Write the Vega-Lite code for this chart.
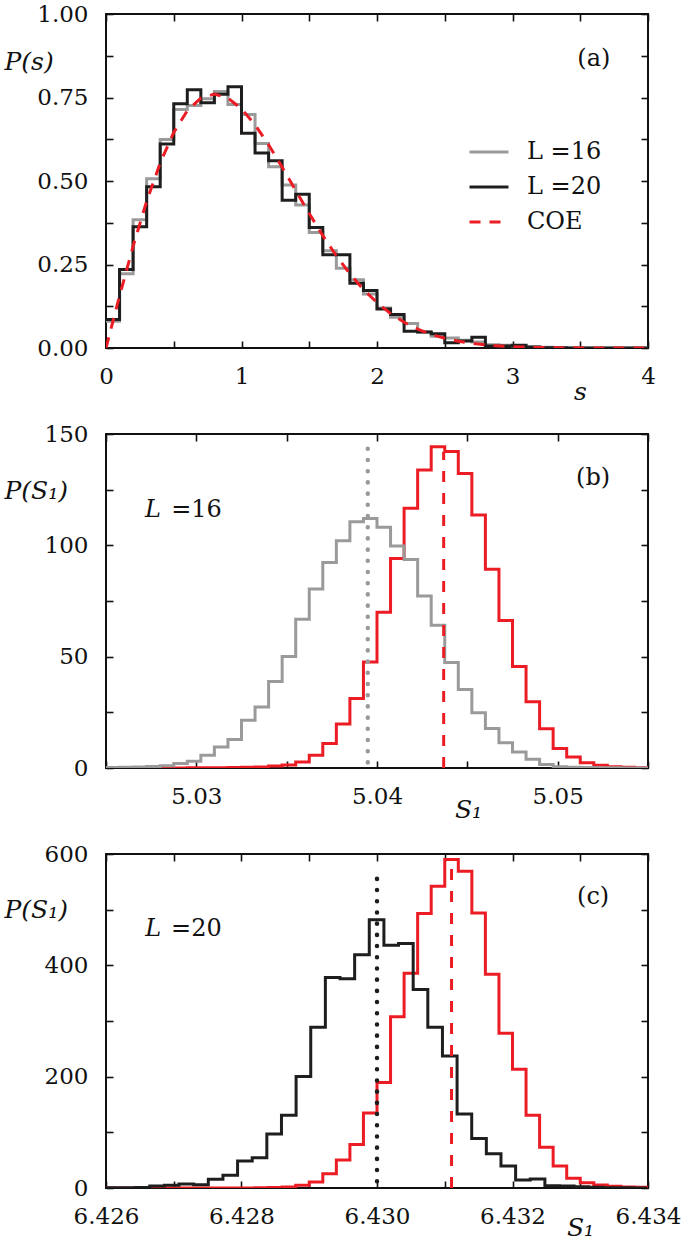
{
  "$schema": "https://vega.github.io/schema/vega-lite/v6.json",
  "background": "white",
  "padding": {"left": 3, "top": 2, "right": 4, "bottom": 4},
  "bounds": "flush",
  "spacing": 86,
  "config": {
    "font": "DejaVu Serif",
    "view": {"stroke": "#111111", "strokeWidth": 2},
    "axis": {
      "domain": false, "grid": false, "tickColor": "#111111", "tickWidth": 1.6, "tickSize": -7,
      "labelFont": "DejaVu Serif", "labelFontSize": 23, "labelColor": "#111111",
      "labelOverlap": false, "labelFlush": false,
      "titleFont": "DejaVu Serif", "titleFontSize": 25, "titleFontWeight": "normal",
      "titleColor": "#111111", "titleFontStyle": "italic", "titleAngle": 0
    },
    "axisX": {"labelPadding": 24, "titleAlign": "center", "titleBaseline": "middle"},
    "axisY": {"labelPadding": 25, "titleAlign": "left", "titleBaseline": "middle"},
    "text": {"font": "DejaVu Serif", "fontSize": 24, "color": "#111111"}
  },
  "datasets": {
    "ps": [
      {"s": 0.0, "p": 0.08, "series": "L =16"}, {"s": 0.1, "p": 0.222, "series": "L =16"}, {"s": 0.2, "p": 0.384, "series": "L =16"}, {"s": 0.3, "p": 0.507, "series": "L =16"}, {"s": 0.4, "p": 0.624, "series": "L =16"}, {"s": 0.5, "p": 0.714, "series": "L =16"}, {"s": 0.6, "p": 0.726, "series": "L =16"}, {"s": 0.7, "p": 0.746, "series": "L =16"}, {"s": 0.8, "p": 0.768, "series": "L =16"}, {"s": 0.9, "p": 0.729, "series": "L =16"},
      {"s": 1.0, "p": 0.699, "series": "L =16"}, {"s": 1.1, "p": 0.612, "series": "L =16"}, {"s": 1.2, "p": 0.543, "series": "L =16"}, {"s": 1.3, "p": 0.488, "series": "L =16"}, {"s": 1.4, "p": 0.428, "series": "L =16"}, {"s": 1.5, "p": 0.346, "series": "L =16"}, {"s": 1.6, "p": 0.291, "series": "L =16"}, {"s": 1.7, "p": 0.239, "series": "L =16"}, {"s": 1.8, "p": 0.204, "series": "L =16"}, {"s": 1.9, "p": 0.162, "series": "L =16"},
      {"s": 2.0, "p": 0.120, "series": "L =16"}, {"s": 2.1, "p": 0.092, "series": "L =16"}, {"s": 2.2, "p": 0.073, "series": "L =16"}, {"s": 2.3, "p": 0.048, "series": "L =16"}, {"s": 2.4, "p": 0.035, "series": "L =16"}, {"s": 2.5, "p": 0.030, "series": "L =16"}, {"s": 2.6, "p": 0.023, "series": "L =16"}, {"s": 2.7, "p": 0.018, "series": "L =16"}, {"s": 2.8, "p": 0.010, "series": "L =16"}, {"s": 2.9, "p": 0.008, "series": "L =16"},
      {"s": 3.0, "p": 0.005, "series": "L =16"}, {"s": 3.1, "p": 0.003, "series": "L =16"}, {"s": 3.2, "p": 0.002, "series": "L =16"}, {"s": 3.3, "p": 0.001, "series": "L =16"}, {"s": 3.4, "p": 0.0, "series": "L =16"}, {"s": 4.0, "p": 0.0, "series": "L =16"},
      {"s": 0.0, "p": 0.085, "series": "L =20"}, {"s": 0.1, "p": 0.235, "series": "L =20"}, {"s": 0.2, "p": 0.363, "series": "L =20"}, {"s": 0.3, "p": 0.483, "series": "L =20"}, {"s": 0.4, "p": 0.611, "series": "L =20"}, {"s": 0.5, "p": 0.731, "series": "L =20"}, {"s": 0.6, "p": 0.773, "series": "L =20"}, {"s": 0.7, "p": 0.734, "series": "L =20"}, {"s": 0.8, "p": 0.760, "series": "L =20"}, {"s": 0.9, "p": 0.782, "series": "L =20"},
      {"s": 1.0, "p": 0.643, "series": "L =20"}, {"s": 1.1, "p": 0.584, "series": "L =20"}, {"s": 1.2, "p": 0.561, "series": "L =20"}, {"s": 1.3, "p": 0.442, "series": "L =20"}, {"s": 1.4, "p": 0.460, "series": "L =20"}, {"s": 1.5, "p": 0.361, "series": "L =20"}, {"s": 1.6, "p": 0.279, "series": "L =20"}, {"s": 1.7, "p": 0.279, "series": "L =20"}, {"s": 1.8, "p": 0.194, "series": "L =20"}, {"s": 1.9, "p": 0.172, "series": "L =20"},
      {"s": 2.0, "p": 0.117, "series": "L =20"}, {"s": 2.1, "p": 0.100, "series": "L =20"}, {"s": 2.2, "p": 0.050, "series": "L =20"}, {"s": 2.3, "p": 0.048, "series": "L =20"}, {"s": 2.4, "p": 0.043, "series": "L =20"}, {"s": 2.5, "p": 0.016, "series": "L =20"}, {"s": 2.6, "p": 0.021, "series": "L =20"}, {"s": 2.7, "p": 0.032, "series": "L =20"}, {"s": 2.8, "p": 0.006, "series": "L =20"}, {"s": 2.9, "p": 0.006, "series": "L =20"},
      {"s": 3.0, "p": 0.008, "series": "L =20"}, {"s": 3.1, "p": 0.003, "series": "L =20"}, {"s": 3.2, "p": 0.001, "series": "L =20"}, {"s": 3.3, "p": 0.001, "series": "L =20"}, {"s": 3.4, "p": 0.0, "series": "L =20"}, {"s": 4.0, "p": 0.0, "series": "L =20"},
      {"s": 0.0, "p": 0.0, "series": "COE"}, {"s": 0.1, "p": 0.1559, "series": "COE"}, {"s": 0.2, "p": 0.3044, "series": "COE"}, {"s": 0.3, "p": 0.4391, "series": "COE"}, {"s": 0.4, "p": 0.5541, "series": "COE"}, {"s": 0.5, "p": 0.6454, "series": "COE"}, {"s": 0.6, "p": 0.7104, "series": "COE"}, {"s": 0.7, "p": 0.7483, "series": "COE"}, {"s": 0.8, "p": 0.7602, "series": "COE"}, {"s": 0.9, "p": 0.7483, "series": "COE"},
      {"s": 1.0, "p": 0.7162, "series": "COE"}, {"s": 1.1, "p": 0.6680, "series": "COE"}, {"s": 1.2, "p": 0.6083, "series": "COE"}, {"s": 1.3, "p": 0.5415, "series": "COE"}, {"s": 1.4, "p": 0.4718, "series": "COE"}, {"s": 1.5, "p": 0.4025, "series": "COE"}, {"s": 1.6, "p": 0.3366, "series": "COE"}, {"s": 1.7, "p": 0.2759, "series": "COE"}, {"s": 1.8, "p": 0.2220, "series": "COE"}, {"s": 1.9, "p": 0.1752, "series": "COE"},
      {"s": 2.0, "p": 0.1358, "series": "COE"}, {"s": 2.1, "p": 0.1033, "series": "COE"}, {"s": 2.2, "p": 0.0772, "series": "COE"}, {"s": 2.3, "p": 0.0567, "series": "COE"}, {"s": 2.4, "p": 0.0409, "series": "COE"}, {"s": 2.5, "p": 0.0290, "series": "COE"}, {"s": 2.6, "p": 0.0202, "series": "COE"}, {"s": 2.7, "p": 0.0138, "series": "COE"}, {"s": 2.8, "p": 0.0093, "series": "COE"}, {"s": 2.9, "p": 0.0062, "series": "COE"},
      {"s": 3.0, "p": 0.0040, "series": "COE"}, {"s": 3.2, "p": 0.0016, "series": "COE"}, {"s": 3.4, "p": 0.0006, "series": "COE"}, {"s": 3.6, "p": 0.0002, "series": "COE"}, {"s": 3.8, "p": 0.0001, "series": "COE"}, {"s": 4.0, "p": 0.0, "series": "COE"}
    ],
    "b": [
      {"S1": 5.025, "P": 0.2, "series": "sim"}, {"S1": 5.02575, "P": 0.3, "series": "sim"}, {"S1": 5.0265, "P": 0.4, "series": "sim"}, {"S1": 5.02725, "P": 0.7, "series": "sim"}, {"S1": 5.028, "P": 1.0, "series": "sim"}, {"S1": 5.02875, "P": 2.0, "series": "sim"}, {"S1": 5.0295, "P": 3.0, "series": "sim"}, {"S1": 5.03025, "P": 5.7, "series": "sim"}, {"S1": 5.031, "P": 9.4, "series": "sim"}, {"S1": 5.03175, "P": 12.8, "series": "sim"},
      {"S1": 5.0325, "P": 21.5, "series": "sim"}, {"S1": 5.03325, "P": 27.4, "series": "sim"}, {"S1": 5.034, "P": 38.9, "series": "sim"}, {"S1": 5.03475, "P": 50.1, "series": "sim"}, {"S1": 5.0355, "P": 66.8, "series": "sim"}, {"S1": 5.03625, "P": 80.4, "series": "sim"}, {"S1": 5.037, "P": 92.3, "series": "sim"}, {"S1": 5.03775, "P": 102.1, "series": "sim"}, {"S1": 5.0385, "P": 110.6, "series": "sim"}, {"S1": 5.03925, "P": 112.1, "series": "sim"},
      {"S1": 5.04, "P": 108.1, "series": "sim"}, {"S1": 5.04075, "P": 99.7, "series": "sim"}, {"S1": 5.0415, "P": 93.6, "series": "sim"}, {"S1": 5.04225, "P": 77.2, "series": "sim"}, {"S1": 5.043, "P": 64.1, "series": "sim"}, {"S1": 5.04375, "P": 47.4, "series": "sim"}, {"S1": 5.0445, "P": 35.2, "series": "sim"}, {"S1": 5.04525, "P": 24.8, "series": "sim"}, {"S1": 5.046, "P": 17.7, "series": "sim"}, {"S1": 5.04675, "P": 11.3, "series": "sim"},
      {"S1": 5.0475, "P": 7.2, "series": "sim"}, {"S1": 5.04825, "P": 3.9, "series": "sim"}, {"S1": 5.049, "P": 1.6, "series": "sim"}, {"S1": 5.04975, "P": 0.6, "series": "sim"}, {"S1": 5.0505, "P": 0.3, "series": "sim"}, {"S1": 5.05125, "P": 0.2, "series": "sim"}, {"S1": 5.052, "P": 0.1, "series": "sim"}, {"S1": 5.0535, "P": 0.0, "series": "sim"}, {"S1": 5.055, "P": 0.0, "series": "sim"},
      {"S1": 5.025, "P": 0.0, "series": "coe"}, {"S1": 5.0295, "P": 0.1, "series": "coe"}, {"S1": 5.03175, "P": 0.2, "series": "coe"}, {"S1": 5.0325, "P": 0.3, "series": "coe"}, {"S1": 5.03325, "P": 0.5, "series": "coe"}, {"S1": 5.034, "P": 0.9, "series": "coe"}, {"S1": 5.03475, "P": 1.3, "series": "coe"}, {"S1": 5.0355, "P": 2.7, "series": "coe"}, {"S1": 5.03625, "P": 5.7, "series": "coe"}, {"S1": 5.037, "P": 11.0, "series": "coe"},
      {"S1": 5.03775, "P": 19.8, "series": "coe"}, {"S1": 5.0385, "P": 31.2, "series": "coe"}, {"S1": 5.03925, "P": 47.6, "series": "coe"}, {"S1": 5.04, "P": 69.9, "series": "coe"}, {"S1": 5.04075, "P": 94.1, "series": "coe"}, {"S1": 5.0415, "P": 116.6, "series": "coe"}, {"S1": 5.04225, "P": 133.8, "series": "coe"}, {"S1": 5.043, "P": 144.3, "series": "coe"}, {"S1": 5.04375, "P": 142.1, "series": "coe"}, {"S1": 5.0445, "P": 132.3, "series": "coe"},
      {"S1": 5.04525, "P": 113.6, "series": "coe"}, {"S1": 5.046, "P": 89.3, "series": "coe"}, {"S1": 5.04675, "P": 66.2, "series": "coe"}, {"S1": 5.0475, "P": 45.6, "series": "coe"}, {"S1": 5.04825, "P": 29.7, "series": "coe"}, {"S1": 5.049, "P": 17.6, "series": "coe"}, {"S1": 5.04975, "P": 8.8, "series": "coe"}, {"S1": 5.0505, "P": 4.9, "series": "coe"}, {"S1": 5.05125, "P": 2.4, "series": "coe"}, {"S1": 5.052, "P": 1.2, "series": "coe"},
      {"S1": 5.05275, "P": 0.6, "series": "coe"}, {"S1": 5.0535, "P": 0.3, "series": "coe"}, {"S1": 5.05425, "P": 0.1, "series": "coe"}, {"S1": 5.055, "P": 0.1, "series": "coe"}
    ],
    "c": [
      {"S1": 6.426, "P": 0.5, "series": "sim"}, {"S1": 6.426214, "P": 0.5, "series": "sim"}, {"S1": 6.42643, "P": 1.0, "series": "sim"}, {"S1": 6.426646, "P": 3.6, "series": "sim"}, {"S1": 6.426862, "P": 4.8, "series": "sim"}, {"S1": 6.427078, "P": 7.0, "series": "sim"}, {"S1": 6.427294, "P": 6.0, "series": "sim"}, {"S1": 6.42751, "P": 15.5, "series": "sim"}, {"S1": 6.427726, "P": 22.7, "series": "sim"}, {"S1": 6.427942, "P": 48.3, "series": "sim"},
      {"S1": 6.428158, "P": 54.3, "series": "sim"}, {"S1": 6.428374, "P": 97.2, "series": "sim"}, {"S1": 6.42859, "P": 130.6, "series": "sim"}, {"S1": 6.428806, "P": 200.4, "series": "sim"}, {"S1": 6.429022, "P": 288.6, "series": "sim"}, {"S1": 6.429238, "P": 378.0, "series": "sim"}, {"S1": 6.429454, "P": 376.0, "series": "sim"}, {"S1": 6.42967, "P": 419.2, "series": "sim"}, {"S1": 6.429886, "P": 482.0, "series": "sim"}, {"S1": 6.430102, "P": 436.0, "series": "sim"},
      {"S1": 6.430318, "P": 439.0, "series": "sim"}, {"S1": 6.430534, "P": 356.6, "series": "sim"}, {"S1": 6.43075, "P": 288.6, "series": "sim"}, {"S1": 6.430966, "P": 237.3, "series": "sim"}, {"S1": 6.431182, "P": 133.0, "series": "sim"}, {"S1": 6.431398, "P": 88.8, "series": "sim"}, {"S1": 6.431614, "P": 61.4, "series": "sim"}, {"S1": 6.43183, "P": 39.4, "series": "sim"}, {"S1": 6.432046, "P": 14.3, "series": "sim"}, {"S1": 6.432262, "P": 16.1, "series": "sim"},
      {"S1": 6.432478, "P": 4.2, "series": "sim"}, {"S1": 6.432694, "P": 3.6, "series": "sim"}, {"S1": 6.43291, "P": 2.4, "series": "sim"}, {"S1": 6.433126, "P": 1.2, "series": "sim"}, {"S1": 6.433342, "P": 0.6, "series": "sim"}, {"S1": 6.433558, "P": 0.3, "series": "sim"}, {"S1": 6.433774, "P": 0.2, "series": "sim"}, {"S1": 6.43399, "P": 0.2, "series": "sim"},
      {"S1": 6.426, "P": 0.0, "series": "coe"}, {"S1": 6.4276, "P": 0.2, "series": "coe"}, {"S1": 6.4282, "P": 0.6, "series": "coe"}, {"S1": 6.4284, "P": 1.0, "series": "coe"}, {"S1": 6.4286, "P": 1.8, "series": "coe"}, {"S1": 6.4288, "P": 4.8, "series": "coe"}, {"S1": 6.429, "P": 10.7, "series": "coe"}, {"S1": 6.4292, "P": 25.6, "series": "coe"}, {"S1": 6.4294, "P": 50.1, "series": "coe"}, {"S1": 6.4296, "P": 78.1, "series": "coe"},
      {"S1": 6.4298, "P": 134.8, "series": "coe"}, {"S1": 6.43, "P": 189.6, "series": "coe"}, {"S1": 6.4302, "P": 307.7, "series": "coe"}, {"S1": 6.4304, "P": 386.0, "series": "coe"}, {"S1": 6.4306, "P": 493.0, "series": "coe"}, {"S1": 6.4308, "P": 542.0, "series": "coe"}, {"S1": 6.431, "P": 590.0, "series": "coe"}, {"S1": 6.4312, "P": 569.0, "series": "coe"}, {"S1": 6.4314, "P": 494.0, "series": "coe"}, {"S1": 6.4316, "P": 384.0, "series": "coe"},
      {"S1": 6.4318, "P": 277.9, "series": "coe"}, {"S1": 6.432, "P": 213.5, "series": "coe"}, {"S1": 6.4322, "P": 130.6, "series": "coe"}, {"S1": 6.4324, "P": 73.3, "series": "coe"}, {"S1": 6.4326, "P": 39.4, "series": "coe"}, {"S1": 6.4328, "P": 17.3, "series": "coe"}, {"S1": 6.433, "P": 9.5, "series": "coe"}, {"S1": 6.4332, "P": 5.4, "series": "coe"}, {"S1": 6.4334, "P": 3.0, "series": "coe"}, {"S1": 6.4336, "P": 1.8, "series": "coe"},
      {"S1": 6.4338, "P": 1.2, "series": "coe"}, {"S1": 6.434, "P": 1.2, "series": "coe"}
    ]
  },
  "vconcat": [
    {
      "width": 542, "height": 334,
      "data": {"name": "ps"},
      "layer": [
        {
          "transform": [{"filter": "datum.series == 'L =16'"}],
          "mark": {"type": "line", "interpolate": "step-after", "strokeWidth": 3, "clip": true},
          "encoding": {
            "x": {"field": "s", "type": "quantitative", "scale": {"domain": [0, 4], "nice": false},
                  "axis": {"orient": "bottom", "values": [0, 0.5, 1, 1.5, 2, 2.5, 3, 3.5, 4],
                           "labelExpr": "datum.value % 1 == 0 ? format(datum.value, 'd') : ''",
                           "title": "s", "titleX": 474, "titleY": 43}},
            "y": {"field": "p", "type": "quantitative", "scale": {"domain": [0, 1], "nice": false},
                  "axis": {"orient": "left", "values": [0, 0.125, 0.25, 0.375, 0.5, 0.625, 0.75, 0.875, 1],
                           "labelExpr": "abs(datum.value * 4 - round(datum.value * 4)) < 0.001 ? format(datum.value, '.2f') : ''",
                           "title": "P(s)", "titleX": -102, "titleY": 47}},
            "color": {"field": "series", "type": "nominal",
                      "scale": {"domain": ["L =16", "L =20", "COE"], "range": ["#9a9a9a", "#1e1e1e", "#ec1c24"]},
                      "legend": {"orient": "none", "legendX": 362, "legendY": 126, "title": null,
                                 "symbolType": "stroke", "symbolSize": 1521, "symbolStrokeWidth": 3,
                                 "clipHeight": 24, "rowPadding": 11, "labelFont": "DejaVu Serif",
                                 "labelFontSize": 24, "labelColor": "#111111", "labelOffset": 17, "padding": 0}},
            "strokeDash": {"field": "series", "type": "nominal",
                           "scale": {"domain": ["L =16", "L =20", "COE"], "range": [[1, 0], [1, 0], [11, 9]]},
                           "legend": {"orient": "none", "legendX": 362, "legendY": 126, "title": null,
                                 "symbolType": "stroke", "symbolSize": 1521, "symbolStrokeWidth": 3,
                                 "clipHeight": 24, "rowPadding": 11, "labelFont": "DejaVu Serif",
                                 "labelFontSize": 24, "labelColor": "#111111", "labelOffset": 17, "padding": 0}}
          }
        },
        {
          "transform": [{"filter": "datum.series == 'L =20'"}],
          "mark": {"type": "line", "interpolate": "step-after", "strokeWidth": 3, "clip": true},
          "encoding": {
            "x": {"field": "s", "type": "quantitative", "axis": null},
            "y": {"field": "p", "type": "quantitative", "axis": null},
            "color": {"field": "series", "type": "nominal"},
            "strokeDash": {"field": "series", "type": "nominal"}
          }
        },
        {
          "transform": [{"filter": "datum.series == 'COE'"}],
          "mark": {"type": "line", "strokeWidth": 3, "clip": true},
          "encoding": {
            "x": {"field": "s", "type": "quantitative", "axis": null},
            "y": {"field": "p", "type": "quantitative", "axis": null},
            "color": {"field": "series", "type": "nominal"},
            "strokeDash": {"field": "series", "type": "nominal"}
          }
        },
        {
          "data": {"values": [{"label": "(a)"}]},
          "mark": {"type": "text", "align": "center", "baseline": "middle"},
          "encoding": {
            "text": {"field": "label"},
            "x": {"datum": 3.6, "type": "quantitative",
                  "axis": {"orient": "top", "values": [0, 0.5, 1, 1.5, 2, 2.5, 3, 3.5, 4], "labels": false, "title": null}},
            "y": {"datum": 0.865, "type": "quantitative",
                  "axis": {"orient": "right", "values": [0, 0.125, 0.25, 0.375, 0.5, 0.625, 0.75, 0.875, 1], "labels": false, "title": null}}
          }
        }
      ],
      "resolve": {"axis": {"x": "independent", "y": "independent"}}
    },
    {
      "width": 542, "height": 334,
      "data": {"name": "b"},
      "layer": [
        {
          "transform": [{"filter": "datum.series == 'coe'"}],
          "mark": {"type": "line", "interpolate": "step-after", "strokeWidth": 3, "color": "#ec1c24", "clip": true},
          "encoding": {
            "x": {"field": "S1", "type": "quantitative", "scale": {"domain": [5.025, 5.055], "nice": false, "zero": false},
                  "axis": {"orient": "bottom", "values": [5.025, 5.03, 5.035, 5.04, 5.045, 5.05, 5.055],
                           "labelExpr": "abs(datum.value * 100 - round(datum.value * 100)) < 0.001 ? format(datum.value, '.2f') : ''",
                           "title": "S₁", "titleX": 362, "titleY": 41}},
            "y": {"field": "P", "type": "quantitative", "scale": {"domain": [0, 150], "nice": false},
                  "axis": {"orient": "left", "values": [0, 25, 50, 75, 100, 125, 150],
                           "labelExpr": "datum.value % 50 == 0 ? format(datum.value, 'd') : ''",
                           "title": "P(S₁)", "titleX": -102, "titleY": 56}}
          }
        },
        {
          "transform": [{"filter": "datum.series == 'sim'"}],
          "mark": {"type": "line", "interpolate": "step-after", "strokeWidth": 3, "color": "#9a9a9a", "clip": true},
          "encoding": {
            "x": {"field": "S1", "type": "quantitative", "axis": null},
            "y": {"field": "P", "type": "quantitative", "axis": null}
          }
        },
        {
          "data": {"values": [{"mean": 5.04369, "lo": 0, "hi": 142}]},
          "mark": {"type": "rule", "color": "#ec1c24", "strokeWidth": 3, "strokeDash": [11, 11]},
          "encoding": {
            "x": {"field": "mean", "type": "quantitative", "axis": null},
            "y": {"field": "lo", "type": "quantitative", "axis": null},
            "y2": {"field": "hi"}
          }
        },
        {
          "data": {"values": [{"mean": 5.03949, "lo": 2.5, "hi": 143.5}]},
          "mark": {"type": "rule", "color": "#9a9a9a", "strokeWidth": 4.5, "strokeDash": [0.1, 11.1], "strokeCap": "round"},
          "encoding": {
            "x": {"field": "mean", "type": "quantitative", "axis": null},
            "y": {"field": "lo", "type": "quantitative", "axis": null},
            "y2": {"field": "hi"}
          }
        },
        {
          "data": {"values": [{"label": "L"}]},
          "mark": {"type": "text", "align": "left", "baseline": "middle", "fontStyle": "italic"},
          "encoding": {
            "text": {"field": "label"},
            "x": {"datum": 5.02716, "type": "quantitative", "axis": null},
            "y": {"datum": 115.9, "type": "quantitative", "axis": null}
          }
        },
        {
          "data": {"values": [{"label": "=16"}]},
          "mark": {"type": "text", "align": "left", "baseline": "middle"},
          "encoding": {
            "text": {"field": "label"},
            "x": {"datum": 5.02861, "type": "quantitative", "axis": null},
            "y": {"datum": 115.9, "type": "quantitative", "axis": null}
          }
        },
        {
          "data": {"values": [{"label": "(b)"}]},
          "mark": {"type": "text", "align": "center", "baseline": "middle"},
          "encoding": {
            "text": {"field": "label"},
            "x": {"datum": 5.05196, "type": "quantitative",
                  "axis": {"orient": "top", "values": [5.025, 5.03, 5.035, 5.04, 5.045, 5.05, 5.055], "labels": false, "title": null}},
            "y": {"datum": 130.2, "type": "quantitative",
                  "axis": {"orient": "right", "values": [0, 25, 50, 75, 100, 125, 150], "labels": false, "title": null}}
          }
        }
      ],
      "resolve": {"axis": {"x": "independent", "y": "independent"}}
    },
    {
      "width": 542, "height": 334,
      "data": {"name": "c"},
      "layer": [
        {
          "transform": [{"filter": "datum.series == 'coe'"}],
          "mark": {"type": "line", "interpolate": "step-after", "strokeWidth": 3, "color": "#ec1c24", "clip": true},
          "encoding": {
            "x": {"field": "S1", "type": "quantitative", "scale": {"domain": [6.426, 6.434], "nice": false, "zero": false},
                  "axis": {"orient": "bottom", "values": [6.426, 6.427, 6.428, 6.429, 6.43, 6.431, 6.432, 6.433, 6.434],
                           "labelExpr": "round(datum.value * 1000) % 2 == 0 ? format(datum.value, '.3f') : ''",
                           "title": "S₁", "titleX": 474, "titleY": 39}},
            "y": {"field": "P", "type": "quantitative", "scale": {"domain": [0, 600], "nice": false},
                  "axis": {"orient": "left", "values": [0, 100, 200, 300, 400, 500, 600],
                           "labelExpr": "datum.value % 200 == 0 ? format(datum.value, 'd') : ''",
                           "title": "P(S₁)", "titleX": -102, "titleY": 55}}
          }
        },
        {
          "transform": [{"filter": "datum.series == 'sim'"}],
          "mark": {"type": "line", "interpolate": "step-after", "strokeWidth": 3, "color": "#1e1e1e", "clip": true},
          "encoding": {
            "x": {"field": "S1", "type": "quantitative", "axis": null},
            "y": {"field": "P", "type": "quantitative", "axis": null}
          }
        },
        {
          "data": {"values": [{"mean": 6.4311, "lo": 0, "hi": 575}]},
          "mark": {"type": "rule", "color": "#ec1c24", "strokeWidth": 3, "strokeDash": [11, 11]},
          "encoding": {
            "x": {"field": "mean", "type": "quantitative", "axis": null},
            "y": {"field": "lo", "type": "quantitative", "axis": null},
            "y2": {"field": "hi"}
          }
        },
        {
          "data": {"values": [{"mean": 6.43, "lo": 12, "hi": 575}]},
          "mark": {"type": "rule", "color": "#1e1e1e", "strokeWidth": 4.5, "strokeDash": [0.1, 11.1], "strokeCap": "round"},
          "encoding": {
            "x": {"field": "mean", "type": "quantitative", "axis": null},
            "y": {"field": "lo", "type": "quantitative", "axis": null},
            "y2": {"field": "hi"}
          }
        },
        {
          "data": {"values": [{"label": "L"}]},
          "mark": {"type": "text", "align": "left", "baseline": "middle", "fontStyle": "italic"},
          "encoding": {
            "text": {"field": "label"},
            "x": {"datum": 6.42658, "type": "quantitative", "axis": null},
            "y": {"datum": 465, "type": "quantitative", "axis": null}
          }
        },
        {
          "data": {"values": [{"label": "=20"}]},
          "mark": {"type": "text", "align": "left", "baseline": "middle"},
          "encoding": {
            "text": {"field": "label"},
            "x": {"datum": 6.42696, "type": "quantitative", "axis": null},
            "y": {"datum": 465, "type": "quantitative", "axis": null}
          }
        },
        {
          "data": {"values": [{"label": "(c)"}]},
          "mark": {"type": "text", "align": "center", "baseline": "middle"},
          "encoding": {
            "text": {"field": "label"},
            "x": {"datum": 6.43319, "type": "quantitative",
                  "axis": {"orient": "top", "values": [6.426, 6.427, 6.428, 6.429, 6.43, 6.431, 6.432, 6.433, 6.434], "labels": false, "title": null}},
            "y": {"datum": 522.5, "type": "quantitative",
                  "axis": {"orient": "right", "values": [0, 100, 200, 300, 400, 500, 600], "labels": false, "title": null}}
          }
        }
      ],
      "resolve": {"axis": {"x": "independent", "y": "independent"}}
    }
  ]
}
